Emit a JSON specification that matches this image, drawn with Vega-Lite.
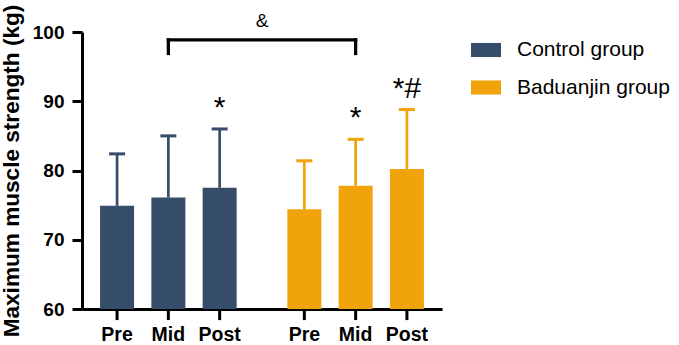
{
  "$schema": "https://vega.github.io/schema/vega-lite/v6.json",
  "width": 360,
  "height": 277,
  "padding": {"left": 0, "top": 4, "right": 0, "bottom": 0},
  "background": "white",
  "config": {
    "view": {"stroke": null},
    "font": "Liberation Sans",
    "axis": {"grid": false}
  },
  "data": {
    "values": [
      {"group": "Control group", "time": "Pre", "mean": 74.9, "upper": 82.4, "sig": ""},
      {"group": "Control group", "time": "Mid", "mean": 76.1, "upper": 85.0, "sig": ""},
      {"group": "Control group", "time": "Post", "mean": 77.5, "upper": 86.0, "sig": "*"},
      {"group": "Baduanjin group", "time": "Pre", "mean": 74.4, "upper": 81.4, "sig": ""},
      {"group": "Baduanjin group", "time": "Mid", "mean": 77.8, "upper": 84.5, "sig": "*"},
      {"group": "Baduanjin group", "time": "Post", "mean": 80.2, "upper": 88.8, "sig": "*#"}
    ]
  },
  "encoding": {
    "x": {
      "field": "group",
      "type": "nominal",
      "scale": {"domain": ["Control group", "Baduanjin group"], "paddingInner": 0.2707, "paddingOuter": 0.0965},
      "axis": {"labels": false, "ticks": false, "title": null, "domainColor": "black", "domainWidth": 3}
    },
    "xOffset": {
      "field": "time",
      "type": "nominal",
      "scale": {"domain": ["Pre", "Mid", "Post"], "paddingInner": 0.337, "paddingOuter": 0}
    }
  },
  "layer": [
    {
      "mark": {"type": "rule", "color": "black", "strokeWidth": 3},
      "encoding": {
        "y": {"datum": 60, "type": "quantitative"},
        "y2": {"datum": 58.4}
      }
    },
    {
      "mark": {"type": "bar"},
      "encoding": {
        "y": {
          "field": "mean",
          "type": "quantitative",
          "scale": {"domain": [60, 100], "nice": false, "zero": false},
          "axis": {
            "values": [60, 70, 80, 90, 100],
            "title": "Maximum muscle strength (kg)",
            "titleFontSize": 22.6,
            "titleFontWeight": "bold",
            "titleColor": "black",
            "titlePadding": 9,
            "labelFontSize": 19,
            "labelFontWeight": "bold",
            "labelColor": "black",
            "labelPadding": 8,
            "tickSize": 10,
            "tickWidth": 3,
            "tickColor": "black",
            "domainWidth": 3,
            "domainColor": "black"
          }
        },
        "y2": {"datum": 60},
        "color": {
          "field": "group",
          "type": "nominal",
          "scale": {"domain": ["Control group", "Baduanjin group"], "range": ["#354d68", "#f0a30a"]},
          "legend": {
            "title": null,
            "orient": "none",
            "legendX": 389,
            "legendY": 3,
            "padding": 0,
            "symbolType": "M-1,-0.47H1V0.47H-1Z",
            "symbolSize": 900,
            "symbolStrokeWidth": 0,
            "symbolOpacity": 1,
            "labelFontSize": 21,
            "labelColor": "black",
            "labelOffset": 16,
            "rowPadding": 12.5,
            "labelLimit": 300
          }
        }
      }
    },
    {
      "mark": {"type": "rule", "strokeWidth": 2.7},
      "encoding": {
        "y": {"field": "mean", "type": "quantitative"},
        "y2": {"field": "upper"},
        "color": {"field": "group", "type": "nominal"}
      }
    },
    {
      "mark": {"type": "tick", "orient": "horizontal", "size": 16, "thickness": 3, "opacity": 1},
      "encoding": {
        "y": {"field": "upper", "type": "quantitative"},
        "color": {"field": "group", "type": "nominal"}
      }
    },
    {
      "mark": {"type": "text", "fontSize": 30, "color": "black", "baseline": "alphabetic", "dy": -12},
      "encoding": {
        "y": {"field": "upper", "type": "quantitative"},
        "text": {"field": "sig"}
      }
    },
    {
      "mark": {"type": "text", "fontSize": 19.5, "fontWeight": "bold", "color": "black", "baseline": "top", "dy": 17},
      "encoding": {
        "y": {"datum": 60, "type": "quantitative"},
        "text": {"field": "time"}
      }
    },
    {
      "data": {"values": [{"a": 1}]},
      "mark": {"type": "rule", "color": "black", "strokeWidth": 3.3, "strokeCap": "square"},
      "encoding": {
        "x": {"datum": "Control group", "bandPosition": 0.5},
        "x2": {"datum": "Baduanjin group", "bandPosition": 0.5},
        "xOffset": null,
        "y": {"datum": 98.85, "type": "quantitative"}
      }
    },
    {
      "data": {"values": [{"g": "Control group"}, {"g": "Baduanjin group"}]},
      "mark": {"type": "rule", "color": "black", "strokeWidth": 3.3, "strokeCap": "square"},
      "encoding": {
        "x": {"field": "g", "type": "nominal", "bandPosition": 0.5},
        "xOffset": null,
        "y": {"datum": 98.85, "type": "quantitative"},
        "y2": {"datum": 96.9}
      }
    },
    {
      "data": {"values": [{"label": "&"}]},
      "mark": {"type": "text", "fontSize": 19, "color": "black", "baseline": "middle"},
      "encoding": {
        "x": {"datum": "Control group", "bandPosition": 1.186},
        "xOffset": null,
        "y": {"datum": 101.6, "type": "quantitative"},
        "text": {"field": "label"}
      }
    }
  ]
}
